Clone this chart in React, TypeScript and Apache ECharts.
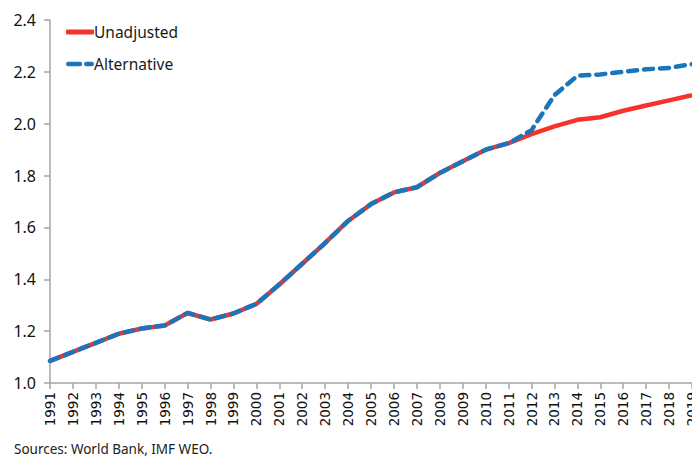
import React, { useEffect, useRef } from "react";
import * as echarts from "echarts";

const years = [
  "1991", "1992", "1993", "1994", "1995", "1996", "1997", "1998", "1999", "2000",
  "2001", "2002", "2003", "2004", "2005", "2006", "2007", "2008", "2009", "2010",
  "2011", "2012", "2013", "2014", "2015", "2016", "2017", "2018", "2019",
];

const unadjusted = [
  1.085, 1.12, 1.155, 1.19, 1.21, 1.222, 1.27, 1.245, 1.268, 1.305,
  1.38, 1.46, 1.54, 1.625, 1.69, 1.735, 1.755, 1.81, 1.855, 1.9,
  1.925, 1.96, 1.99, 2.015, 2.025, 2.05, 2.07, 2.09, 2.11,
];

const alternative = [
  1.085, 1.12, 1.155, 1.19, 1.21, 1.222, 1.27, 1.245, 1.268, 1.305,
  1.38, 1.46, 1.54, 1.625, 1.69, 1.735, 1.755, 1.81, 1.855, 1.9,
  1.925, 1.975, 2.11, 2.185, 2.19, 2.2, 2.21, 2.215, 2.23,
];

const yMin = 1.0;
const yMax = 2.4;
const yStep = 0.2;

const RED = "#f5332b";
const BLUE = "#1a75bb";

export default function App() {
  const ref = useRef<HTMLDivElement>(null);
  useEffect(() => {
    document.body.style.margin = "0";
    const chart = echarts.init(ref.current!, undefined, { renderer: "svg" });
    chart.setOption({
      animation: false,
      backgroundColor: "#ffffff",
      grid: { left: 50, right: 0, top: 20, bottom: 75, containLabel: false, outerBoundsMode: "none" },
      legend: {
        orient: "vertical",
        left: 61,
        top: 19,
        itemWidth: 28,
        itemHeight: 5,
        itemGap: 16,
        textStyle: { fontFamily: "Noto Sans", fontSize: 15.5, color: "#1a1a1a", padding: [0, 0, 0, -5] },
        data: [
          { name: "Unadjusted", icon: "roundRect", itemStyle: { color: RED } },
          {
            name: "Alternative",
            icon: "path://M2,0h13a2,2 0 0 1 0,5h-13a2,2 0 0 1 0,-5z M22,0h6a2,2 0 0 1 0,5h-6a2,2 0 0 1 0,-5z",
            itemStyle: { color: BLUE },
          },
        ],
      },
      xAxis: {
        type: "category",
        data: years,
        boundaryGap: false,
        axisLine: { lineStyle: { color: "#a6a6a6", width: 1.5 } },
        axisTick: { show: true, alignWithLabel: true, length: 6, lineStyle: { color: "#a6a6a6", width: 1.5 } },
        axisLabel: {
          rotate: 90,
          interval: 0,
          margin: 9,
          fontFamily: "DejaVu Sans",
          fontSize: 13.5,
          color: "#111",
          showMaxLabel: true,
          hideOverlap: false,
        },
        splitLine: { show: false },
      },
      yAxis: {
        type: "value",
        min: yMin,
        max: yMax,
        interval: yStep,
        axisLine: { show: true, lineStyle: { color: "#a6a6a6", width: 1.5 } },
        axisTick: { show: true, length: 6, lineStyle: { color: "#a6a6a6", width: 1.5 } },
        axisLabel: {
          margin: 14,
          fontFamily: "Noto Sans",
          fontSize: 16,
          color: "#111",
          formatter: (v: number) => v.toFixed(1),
        },
        splitLine: { show: false },
      },
      series: [
        {
          name: "Unadjusted",
          type: "line",
          data: unadjusted,
          symbol: "none",
          color: RED,
          lineStyle: { color: RED, width: 4.5 },
          z: 2,
        },
        {
          name: "Alternative",
          type: "line",
          data: alternative,
          symbol: "none",
          color: BLUE,
          lineStyle: { color: BLUE, width: 4.5, type: [9, 7], cap: "round" },
          z: 3,
        },
      ],
      graphic: [
        {
          type: "text",
          left: 14,
          top: 442,
          style: {
            text: "Sources: World Bank, IMF WEO.",
            fontFamily: "Noto Sans",
            fontSize: 13.5,
            fill: "#222",
          },
        },
      ],
    });
    return () => chart.dispose();
  }, []);
  return <div ref={ref} style={{ width: 692, height: 458 }} />;
}
